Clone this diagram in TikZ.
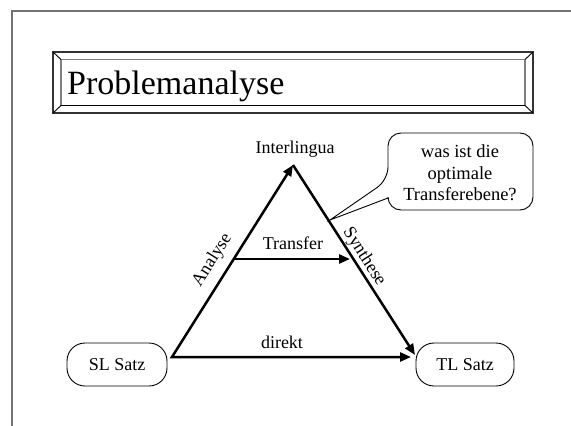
\documentclass[tikz,border=0pt]{standalone}
\usepackage{fontspec}
\setmainfont{Liberation Serif}
\usetikzlibrary{arrows.meta}
\begin{document}
\begin{tikzpicture}[x=1pt,y=-1pt,
  lbl/.style={font=\fontsize{18}{21}\selectfont, inner sep=0pt},
  satz/.style={draw, line width=0.9pt, rounded corners=18pt, minimum width=100pt, minimum height=43pt, inner sep=0pt, font=\fontsize{18}{21}\selectfont},
  tipstyle/.style={line width=2.5pt},
  pageframe/.style={draw=black!55, line width=1.2pt}]
\useasboundingbox (0,0) rectangle (571,426);
\draw[pageframe] (12,426) -- (12,11) -- (571,11);
% title box
\draw[black!80,line width=1.2pt] (53,52) rectangle (533,113);
\draw[black!50,line width=1.2pt] (61,105.5) -- (61,59.5) -- (525,59.5) -- (525,105.5);
\draw[black,line width=1.2pt] (61,105.5) -- (525,105.5);
\draw[line width=0.9pt] (53,52) -- (61,59.5) (533,52) -- (525,59.5) (53,113) -- (61,105.5) (533,113) -- (525,105.5);
\node[anchor=base west, inner sep=0pt, font=\fontsize{34}{40}\selectfont] (title) at (67,94) {Problemanalyse};
% callout
\draw[line width=0.9pt, fill=white, rounded corners=13pt] (388,198) -- (388,210) -- (533,210) -- (533,133) -- (388,133) -- (388,180) [sharp corners] -- (330,220) -- cycle;
\node[align=center, font=\fontsize{18.5}{21.5}\selectfont, inner sep=0pt] (q) at (460,173) {was ist die\\optimale\\Transferebene?};
% boxes
\node[satz] (sl) at (117,364.5) {SL Satz};
\node[satz, minimum width=98pt] (tl) at (465,364.5) {TL Satz};
\node[lbl] (inter) at (295,149) {Interlingua};
\coordinate (A) at (172,357);
\coordinate (apex) at (293,165);
\coordinate (Bs) at (415,355);
\coordinate (Bd) at (411,357);
\coordinate (t0) at (235,259);
\coordinate (t1) at (350,259);
\draw[tipstyle, {Triangle[length=11pt,width=9pt]}-{Triangle[length=11pt,width=9pt]}] (apex) -- (A) -- (Bd);
\draw[tipstyle, -{Triangle[length=11pt,width=9pt]}] (apex) -- (Bs);
\draw[tipstyle, -{Triangle[length=11pt,width=9pt]}] (t0) -- (t1);
% labels
\node[lbl] (transfer) at (293,243) {Transfer};
\node[lbl] (direkt) at (282,342) {direkt};
\node[lbl, rotate=57.8] (analyse) at (212.5,260) {Analyse};
\node[lbl, rotate=-57.5] (synthese) at (364,257) {Synthese};
\end{tikzpicture}
\end{document}
